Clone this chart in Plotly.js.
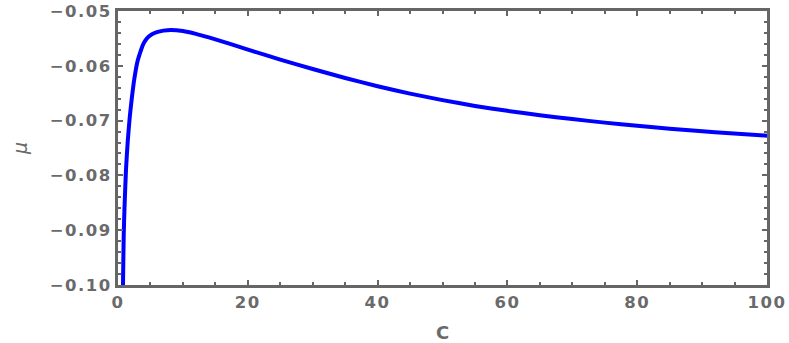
<!DOCTYPE html>
<html>
<head>
<meta charset="utf-8">
<script src="https://cdn.plot.ly/plotly-3.0.1.min.js"></script>
<style>
html,body{margin:0;padding:0;background:#fff;}
#chart{width:789px;height:343px;}
.xtick text,.ytick text{letter-spacing:1.5px;}
</style>
</head>
<body>
<div id="chart"></div>
<script>
const C  = [0.7, 0.77, 0.88, 1.0, 1.23, 1.5, 1.8, 2.1, 2.5, 3.0, 3.5, 3.8, 4.2, 4.7, 5.3, 6.0, 7.0, 8.15, 10, 12, 14, 16, 18, 21, 25, 30, 35, 40, 45, 50, 55, 60, 65, 70, 75, 80, 85, 92, 100];
const mu = [-0.108, -0.100, -0.0910, -0.0860, -0.0790, -0.0738, -0.0695, -0.0662, -0.0625, -0.0592, -0.0573, -0.0563, -0.0554, -0.0547, -0.0542, -0.05385, -0.05358, -0.05345, -0.05365, -0.05417, -0.05482, -0.05554, -0.05628, -0.05740, -0.05887, -0.06058, -0.06222, -0.06372, -0.06507, -0.06626, -0.06732, -0.06822, -0.06902, -0.06972, -0.07037, -0.07094, -0.07147, -0.07213, -0.07275];
const xTicks = [0, 20, 40, 60, 80, 100];
const yTicks = [-0.10, -0.09, -0.08, -0.07, -0.06, -0.05];

const frame = '#666666';
const tickFont = {family: 'DejaVu Sans, Arial, sans-serif', size: 16.5, color: '#6a6a6a', weight: 'bold'};

const trace = {
  x: C, y: mu, type: 'scatter', mode: 'lines',
  line: {color: '#0000ff', width: 4, shape: 'spline', smoothing: 0.6},
  hoverinfo: 'skip'
};

const layout = {
  width: 789, height: 343,
  margin: {l: 118, r: 22, t: 11, b: 58},
  paper_bgcolor: '#ffffff', plot_bgcolor: '#ffffff',
  showlegend: false,
  xaxis: {
    range: [0, 100], tickvals: xTicks, ticktext: xTicks.map(String),
    ticks: 'inside', ticklen: 5, tickwidth: 2, tickcolor: frame,
    minor: {dtick: 5, tick0: 0, ticks: 'inside', ticklen: 3, tickwidth: 2, tickcolor: frame, showgrid: false},
    showline: true, linecolor: frame, linewidth: 3, mirror: 'allticks',
    showgrid: false, zeroline: false, tickfont: tickFont,
    title: {text: 'C', font: {family: 'DejaVu Sans, Arial, sans-serif', size: 18, color: '#6a6a6a', weight: 'bold'}, standoff: 17}
  },
  yaxis: {
    range: [-0.10, -0.05], tickvals: yTicks, tickformat: '.2f',
    ticks: 'inside', ticklen: 5, tickwidth: 2, tickcolor: frame,
    minor: {dtick: 0.002, tick0: -0.1, ticks: 'inside', ticklen: 3, tickwidth: 2, tickcolor: frame, showgrid: false},
    showline: true, linecolor: frame, linewidth: 3, mirror: 'allticks',
    showgrid: false, zeroline: false, tickfont: tickFont,
    title: {text: 'μ', font: {family: 'DejaVu Sans, Arial, sans-serif', size: 19, color: '#6a6a6a', style: 'italic'}, standoff: 18}
  }
};

Plotly.newPlot('chart', [trace], layout, {displayModeBar: false, staticPlot: true});
</script>
</body>
</html>
